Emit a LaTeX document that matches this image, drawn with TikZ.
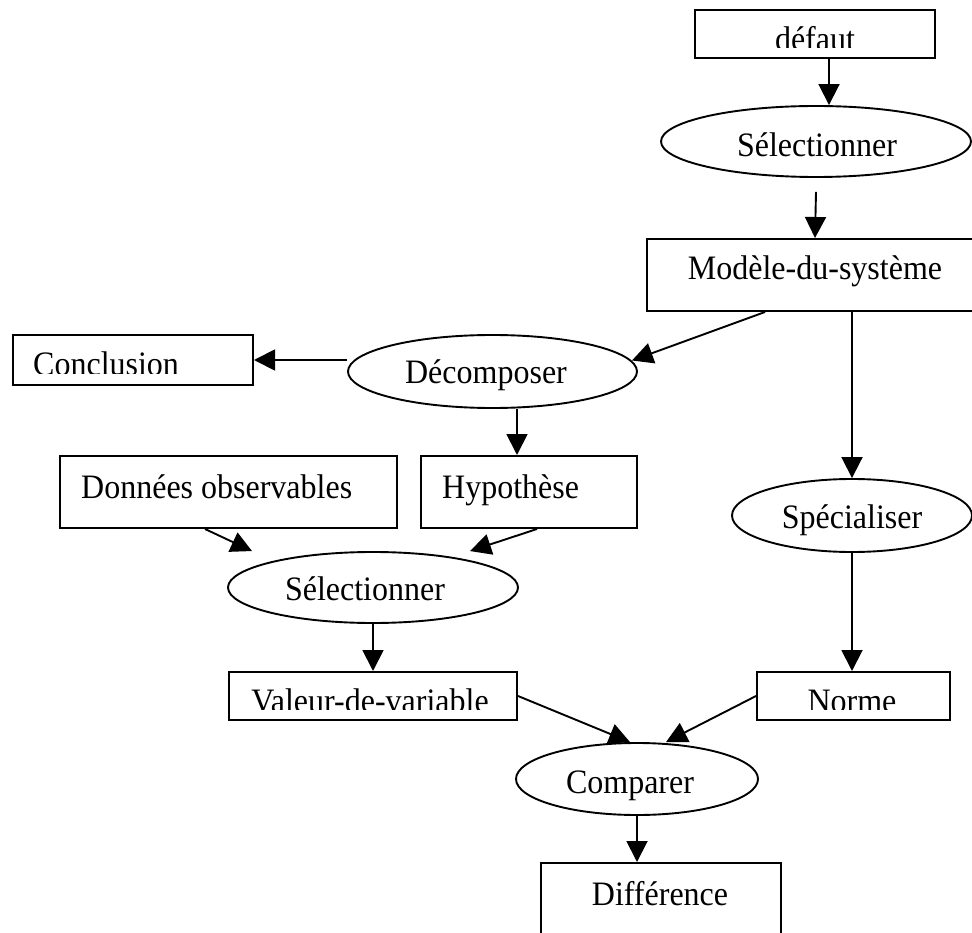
\documentclass[tikz,border=0pt]{standalone}
\usepackage{fontspec}
\setmainfont{Liberation Serif}
\usetikzlibrary{arrows.meta,shapes.geometric}

\tikzset{
  boxnode/.style={draw, rectangle, line width=2pt, inner sep=0pt},
  ovalnode/.style={draw, ellipse, line width=1.9pt, inner sep=0pt},
  lbl/.style={inner sep=0pt, anchor=base, font=\fontsize{32}{38}\selectfont},
  lblw/.style={lbl, anchor=base west},
  arr/.style={line width=1.9pt, -{Triangle[length=21pt,width=21pt]}},
}
\newcommand{\tall}[1]{\scalebox{1}[1.07]{#1}}

\begin{document}
\begin{tikzpicture}[x=1pt, y=-1pt]
\useasboundingbox (0,0) rectangle (972,933);
\clip (0,0) rectangle (972,933);

% shapes
\node[boxnode, minimum width=240pt, minimum height=48pt] (def) at (815,34) {};
\node[ovalnode, minimum width=310pt, minimum height=71pt] (sel1) at (816,141.5) {};
\node[boxnode, minimum width=336pt, minimum height=72pt] (mod) at (815,275) {};
\node[ovalnode, minimum width=289pt, minimum height=73pt] (dec) at (492.5,371.5) {};
\node[boxnode, minimum width=240pt, minimum height=49pt] (conc) at (133,360) {};
\node[boxnode, minimum width=337pt, minimum height=72pt] (don) at (228.5,492) {};
\node[boxnode, minimum width=216pt, minimum height=72pt] (hyp) at (529,492) {};
\node[ovalnode, minimum width=290pt, minimum height=71pt] (sel2) at (373,587.5) {};
\node[ovalnode, minimum width=240pt, minimum height=73pt] (spe) at (852,515.5) {};
\node[boxnode, minimum width=288pt, minimum height=48pt] (val) at (373,696) {};
\node[boxnode, minimum width=193pt, minimum height=48pt] (nor) at (853.5,696) {};
\node[ovalnode, minimum width=242pt, minimum height=72pt] (cmp) at (637,779) {};
\node[boxnode, minimum width=240pt, minimum height=97pt] (dif) at (661,911.5) {};

% labels (the short boxes cut off the foot of their text)
\begin{scope}
  \clip (def.north west) rectangle ([yshift=11pt]def.south east);
  \node[lbl] (tdef) at (815,51) {\tall{défaut}};
\end{scope}
\node[lbl] (tsel1) at (817,157) {\tall{Sélectionner}};
\node[lbl] (tmod) at (815,280) {\tall{Modèle-du-système}};
\node[lbl] (tdec) at (486,383) {\tall{Décomposer}};
\begin{scope}
  \clip (conc.north west) rectangle ([yshift=12.5pt]conc.south east);
  \node[lblw] (tconc) at (33,375) {\tall{Conclusion}};
\end{scope}
\node[lblw] (tdon) at (81,498) {\tall{Données observables}};
\node[lblw] (thyp) at (442,498) {\tall{Hypothèse}};
\node[lbl] (tsel2) at (365,600) {\tall{Sélectionner}};
\node[lbl] (tspe) at (852,528) {\tall{Spécialiser}};
\begin{scope}
  \clip (val.north west) rectangle ([yshift=11.5pt]val.south east);
  \node[lbl] (tval) at (370,712) {\tall{Valeur-de-variable}};
\end{scope}
\begin{scope}
  \clip (nor.north west) rectangle ([yshift=11.5pt]nor.south east);
  \node[lbl] (tnor) at (852,712) {\tall{Norme}};
\end{scope}
\node[lbl] (tcmp) at (630,793) {\tall{Comparer}};
\node[lbl] (tdif) at (660,905) {\tall{Différence}};

% connectors
\draw[arr] ([xshift=14pt]def.south) -- ([xshift=13pt]sel1.north);
\draw[arr] ([yshift=-14pt]sel1.south) -- (mod.north);
\draw[arr] ([xshift=119pt]mod.south west) -- ([xshift=-6pt,yshift=11pt]dec.east);
\draw[arr] (dec.west |- conc.east) -- (conc.east);
\draw[arr] ([xshift=24.5pt]dec.south) -- ([xshift=24.5pt]dec.south |- hyp.north);
\draw[arr] (mod.south -| spe.north) -- (spe.north);
\draw[arr] ([xshift=-23.5pt]don.south) -- ([xshift=-121pt]sel2.north);
\draw[arr] ([xshift=8pt]hyp.south) -- ([xshift=97pt]sel2.north);
\draw[arr] (sel2.south) -- (val.north);
\draw[arr] (spe.south) -- (spe.south |- nor.north);
\draw[arr] (val.east) -- ([xshift=-7pt]cmp.north);
\draw[arr] (nor.west) -- ([xshift=29pt]cmp.north);
\draw[arr] (cmp.south) -- (cmp.south |- dif.north);
\end{tikzpicture}
\end{document}
